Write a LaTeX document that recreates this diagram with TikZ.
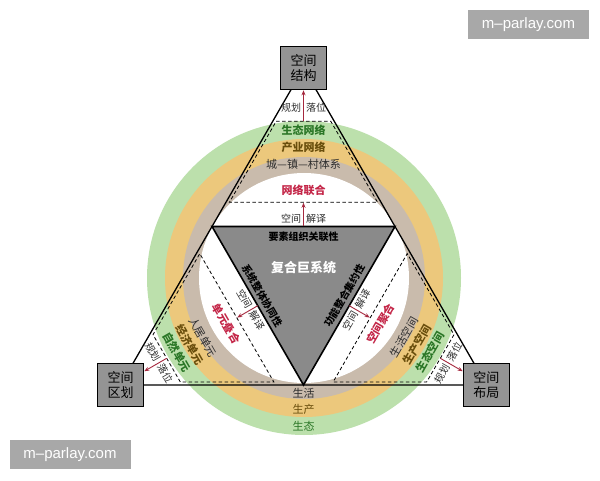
\documentclass[tikz,border=0pt]{standalone}
\usepackage{fontspec}
\setmainfont{Noto Sans CJK SC}
\newfontfamily\wmfont{Liberation Sans}
\usetikzlibrary{calc,arrows.meta}
\definecolor{ringgreen}{RGB}{188,224,172}
\definecolor{ringorange}{RGB}{236,200,124}
\definecolor{ringtan}{RGB}{201,187,172}
\definecolor{tripgray}{RGB}{138,138,138}
\definecolor{boxgray}{RGB}{148,148,148}
\definecolor{redtxt}{RGB}{196,38,72}
\definecolor{arrred}{RGB}{165,40,62}
\definecolor{greentxt}{RGB}{42,118,38}
\definecolor{olivetxt}{RGB}{105,78,12}
\definecolor{darktxt}{RGB}{45,45,45}
\definecolor{wmgray}{RGB}{168,168,168}
\begin{document}
\begin{tikzpicture}[x=1pt,y=1pt,
  vbox/.style={draw=black,line width=1.6pt,fill=boxgray,minimum width=46pt,minimum height=43pt,inner sep=0pt,align=center,font=\fontsize{13}{15}\selectfont},
  lbl/.style={inner sep=0pt,text=darktxt,font=\fontsize{10}{12}\selectfont},
  ringg/.style={inner sep=0pt,text=greentxt,font=\fontsize{11}{13}\selectfont\bfseries},
  ringo/.style={inner sep=0pt,text=olivetxt,font=\fontsize{11}{13}\selectfont\bfseries},
  ringt/.style={inner sep=0pt,text=darktxt,font=\fontsize{11}{13}\selectfont},
  redlbl/.style={inner sep=0pt,text=redtxt,font=\fontsize{11}{13}\selectfont\bfseries},
  redarrow/.style={draw=arrred,line width=0.9pt,-{Stealth[length=5pt,width=4pt]}},
  trapline/.style={draw=black,line width=0.8pt,dash pattern=on 3.5pt off 2.5pt},
  wmbox/.style={fill=wmgray,text=white,minimum width=121pt,minimum height=29pt,inner sep=0pt,font=\wmfont\fontsize{15}{17}\selectfont}
]
\useasboundingbox (0,0) rectangle (600,480);
\fill[white] (0,0) rectangle (600,480);

\coordinate (C) at (303.5,200.7);
\coordinate (RC) at (304,202);
\coordinate (T) at ($(C)+(90:211.3)$);
\coordinate (L) at ($(C)+(210:211.3)$);
\coordinate (R) at ($(C)+(330:211.3)$);

% rings
\fill[ringgreen] (RC) circle[radius=157];
\fill[ringorange] (RC) circle[radius=139];
\fill[ringtan] (RC) circle[radius=121];
\fill[white] (RC) circle[radius=105];

% outer triangle
\draw[line width=1.3pt] (T) -- (L) -- (R) -- cycle;

% dashed trapezoids
\foreach \ang in {0,120,-120}{
  \begin{scope}[shift={(C)},rotate=\ang]
    \draw[trapline] (-27.3,158) -- (27.3,158) -- (74.1,77) -- (-74.1,77) -- cycle;
  \end{scope}
}

% inner (medial) triangle
\coordinate (MA) at ($(T)!0.5!(L)$);
\coordinate (MB) at ($(T)!0.5!(R)$);
\coordinate (MC) at ($(L)!0.5!(R)$);
\draw[line width=1.6pt,fill=tripgray] (MA) -- (MB) -- (MC) -- cycle;

% top region texts
\node[lbl] (tplan) at ($(C)+(90:172)$) {规划\hspace{5pt}落位};
\node[ringg] (tg) at ($(C)+(90:149)$) {生态网络};
\node[ringo] (to) at ($(C)+(90:132)$) {产业网络};
\node[ringt] (tt) at ($(C)+(90:115)$) {城—镇—村体系};
\node[redlbl] (tr) at ($(C)+(90:89)$) {网络联合};
\node[lbl] (tj) at ($(C)+(90:61)$) {空间\hspace{5pt}解译};

% left region texts
\node[lbl,rotate=-60] (lplan) at ($(C)+(210:167)$) {规划\hspace{5pt}落位};
\node[ringg,rotate=-60] (lg) at ($(C)+(210:146)$) {自然单元};
\node[ringo,rotate=-60] (lo) at ($(C)+(210:131)$) {经济单元};
\node[ringt,rotate=-60] (lt) at ($(C)+(210:116)$) {人居单元};
\node[redlbl,rotate=-60] (lr) at ($(C)+(210:89)$) {单元叠合};
\node[lbl,rotate=-60] (lj) at ($(C)+(210:61)$) {空间\hspace{5pt}解译};

% right region texts
\node[lbl,rotate=60] (rplan) at ($(C)+(330:167)$) {规划\hspace{5pt}落位};
\node[ringg,rotate=60] (rg) at ($(C)+(330:146)$) {生态空间};
\node[ringo,rotate=60] (ro) at ($(C)+(330:131)$) {生产空间};
\node[ringt,rotate=60] (rt) at ($(C)+(330:116)$) {生活空间};
\node[redlbl,rotate=60] (rr) at ($(C)+(330:89)$) {空间聚合};
\node[lbl,rotate=60] (rj) at ($(C)+(330:61)$) {空间\hspace{5pt}解译};

% bottom ring labels
\node[ringt] (b1) at (303.5,87) {生活};
\node[ringt,text=olivetxt] (b2) at (303.5,71) {生产};
\node[ringt,text=greentxt] (b3) at (303.5,54) {生态};

% inner triangle texts
\node[inner sep=0pt,text=black,font=\fontsize{10}{12}\selectfont\bfseries] (ia) at (303.5,243) {要素组织关联性};
\node[inner sep=0pt,text=white,font=\fontsize{13}{15}\selectfont\bfseries] (ib) at (303.5,212) {复合巨系统};
\node[inner sep=0pt,text=black,font=\fontsize{10}{12}\selectfont\bfseries,rotate=-60] (ic) at (262.1,184.5) {系统整体协同性};
\node[inner sep=0pt,text=black,font=\fontsize{10}{12}\selectfont\bfseries,rotate=60] (id) at (344.9,184.5) {功能整合集约性};

% boxes
\node[vbox] (tbox) at (T) {空间\\结构};
\node[vbox] (lbox) at (L) {空间\\区划};
\node[vbox] (rbox) at (R) {空间\\布局};

% arrows
\foreach \ang/\bx in {90/tbox,210/lbox,330/rbox}{
  \coordinate (pa\ang) at ($(C)+(\ang:158)$);
  \draw[redarrow] (pa\ang) -- (\bx);
  \coordinate (ja\ang) at ($(C)+(\ang:52.8)$);
  \coordinate (jb\ang) at ($(C)+(\ang:76.5)$);
  \draw[redarrow] (ja\ang) -- (jb\ang);
}

% watermarks
\node[wmbox] (wm1) at (528.5,455.5) {m–parlay.com};
\node[wmbox] (wm2) at (70,25.5) {m–parlay.com};
\end{tikzpicture}
\end{document}
